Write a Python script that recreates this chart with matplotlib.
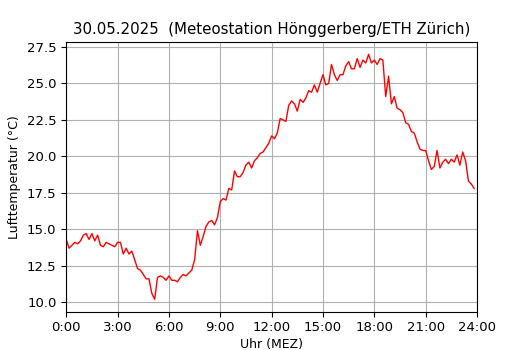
import numpy as np
import matplotlib
matplotlib.use("Agg")
import matplotlib.pyplot as plt

# 10-minute readings, 0:00 .. 23:50
temps = [
    14.3, 13.7, 13.9, 14.1, 14.0, 14.2,   # 0h
    14.6, 14.7, 14.3, 14.7, 14.2, 14.6,   # 1h
    13.9, 13.8, 14.1, 14.0, 13.9, 13.8,   # 2h
    14.1, 14.1, 13.3, 13.7, 13.3, 13.5,   # 3h
    12.9, 12.3, 12.2, 11.9, 11.6, 11.6,   # 4h
    10.6, 10.2, 11.7, 11.8, 11.7, 11.5,   # 5h
    11.8, 11.5, 11.5, 11.4, 11.7, 11.9,   # 6h
    11.8, 12.0, 12.2, 12.9, 14.9, 13.9,   # 7h
    14.5, 15.2, 15.5, 15.6, 15.3, 15.8,   # 8h
    16.9, 17.1, 17.0, 17.8, 17.7, 19.0,   # 9h
    18.6, 18.6, 18.9, 19.4, 19.6, 19.2,   # 10h
    19.7, 19.9, 20.2, 20.3, 20.6, 20.9,   # 11h
    21.4, 21.2, 21.6, 22.6, 22.5, 22.4,   # 12h
    23.5, 23.8, 23.6, 23.1, 23.9, 23.7,   # 13h
    24.0, 24.5, 24.4, 24.9, 24.4, 25.0,   # 14h
    25.6, 24.9, 25.0, 26.3, 25.6, 25.2,   # 15h
    25.6, 25.6, 26.2, 26.5, 26.0, 26.0,   # 16h
    26.7, 26.1, 26.6, 26.4, 27.0, 26.4,   # 17h
    26.6, 26.3, 26.7, 26.6, 24.1, 25.5,   # 18h
    23.6, 24.1, 23.3, 23.2, 23.0, 22.3,   # 19h
    22.2, 21.7, 21.6, 21.0, 20.5, 20.4,   # 20h
    20.4, 19.7, 19.1, 19.3, 20.4, 19.2,   # 21h
    19.6, 19.8, 19.5, 19.8, 19.6, 20.1,   # 22h
    19.4, 20.3, 19.7, 18.3, 18.1, 17.8,   # 23h
]
hours = np.arange(len(temps)) / 6.0

tick_hours = [0, 3, 6, 9, 12, 15, 18, 21, 24]
tick_labels = [f"{h}:00" for h in tick_hours]

fig, ax = plt.subplots(figsize=(5.3, 3.5), dpi=100)
ax.plot(hours, temps, color="red", linewidth=1.0)
ax.set_xlim(0, 24)
ax.set_xticks(tick_hours)
ax.set_xticklabels(tick_labels)
ax.tick_params(labelsize=9.5)
ax.grid(True)
ax.set_title("30.05.2025  (Meteostation Hönggerberg/ETH Zürich)", fontsize=10.8)
ax.set_xlabel("Uhr (MEZ)", fontsize=9, labelpad=3)
ax.set_ylabel("Lufttemperatur (°C)", fontsize=9)

fig.savefig("out.png")
